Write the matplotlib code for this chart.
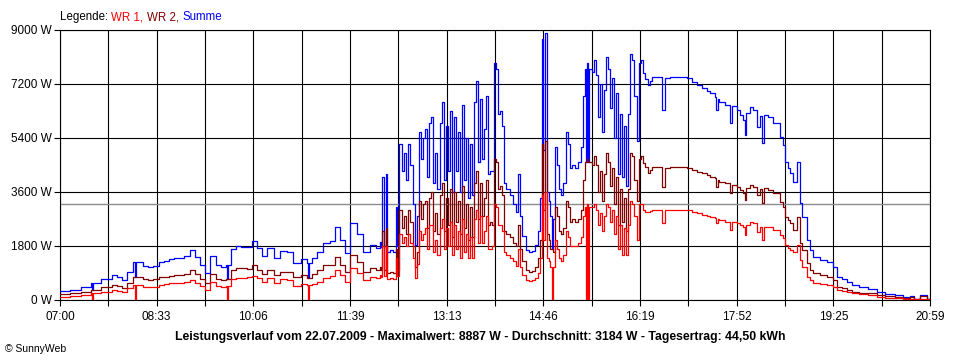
import numpy as np
import matplotlib
matplotlib.use("Agg")
import matplotlib.pyplot as plt

plt.rcParams['font.family'] = ['Liberation Sans', 'DejaVu Sans']

# minutes after 07:00
t_min = [
    0, 10, 20, 30, 31, 32, 40, 50, 55, 60, 65, 70, 72, 73, 75, 80, 85, 90, 95, 100,
    105, 110, 115, 120, 125, 130, 135, 140, 145, 150, 155, 160, 161, 162, 165, 170, 175, 180, 185,
    190, 195, 200, 206, 212, 219, 225, 232, 238, 239, 240, 243, 248, 254, 260, 265, 270, 275,
    280, 286, 292, 299, 305, 309,
    310, 311, 312, 314, 315, 318, 321, 324, 325, 327, 330, 332, 334, 336, 338, 340, 342, 344,
    346, 348, 350, 352, 354, 356, 358, 360, 362, 364, 366, 368, 370, 372, 374, 376, 378, 380,
    382, 384, 386, 388, 390, 392, 393, 395, 397, 399, 401, 403, 405, 407, 409, 411, 413, 415,
    417, 419, 420, 422, 424, 426, 428, 430, 434, 437, 440, 442, 444, 446, 449, 452, 455, 458,
    461, 463, 465, 466, 468, 470, 472, 473, 474, 475, 477, 479, 481, 483, 485, 488, 490, 492,
    494, 497, 500, 502, 504, 506, 507, 508, 509, 510, 513, 515, 517, 519, 521, 523, 525, 527,
    528, 530, 532, 534, 536, 538, 540, 542, 544, 546, 548, 550, 552, 554, 556, 558, 560,
    562, 564, 567, 569, 571, 576, 580, 581, 583, 588, 593, 598, 605, 609, 614, 619, 624, 627,
    632, 633, 635, 636, 641, 646, 648, 653, 656, 659, 661, 662, 665, 668, 672, 675, 677, 679,
    683, 688, 692, 694, 697, 699, 702, 704, 707, 711, 714, 716, 720, 723, 726, 733, 740, 745,
    749, 754, 759, 764, 771, 779, 788, 796, 805, 813, 820, 822, 824, 829, 832, 836, 839,
]

wr2 = [
    200, 220, 280, 333, 333, 333, 420, 500, 470, 390, 555, 755, 760, 770, 780, 690, 667, 690, 755, 780,
    800, 830, 830, 870, 1000, 870, 690, 555, 855, 690, 667, 690, 690, 700, 1000, 1080, 1055, 1020, 1170,
    1000, 870, 1000, 830, 945, 920, 780, 830, 720, 720, 730, 870, 1000, 1170, 1170, 1420, 1170, 945,
    1500, 1280, 945, 1055, 1000, 1110,
    1000, 2300, 1000, 2400, 900, 950, 900, 1700, 1000, 3000, 2400, 2800, 2200, 3000, 2600, 1800, 1100, 1600,
    3300, 2700, 3200, 3300, 2400, 3400, 3600, 2300, 2900, 2200, 3500, 3900, 2300, 3400, 2500, 3700, 2100, 3600,
    2600, 3300, 2200, 3800, 2400, 3200, 2000, 3100, 2100, 3900, 4300, 2700, 3900, 2800, 3400, 4000, 2500, 2600,
    2500, 4700, 4600, 3700, 3800, 3500, 2300, 2200, 2100, 1900, 1800, 2500, 1700, 1300, 1000, 940, 960, 1100,
    1400, 2000, 5200, 3000, 5300, 2200, 2000, 1700, 1700, 1600, 3100, 2800, 2300, 2200, 2400, 3300, 3100, 2600,
    2700, 2600, 2700, 3000, 4000, 4600, 4600, 4700, 4600, 4600, 4500, 4800, 4500, 3600, 4300, 3300, 4200, 4900,
    4600, 3800, 4400, 3200, 4100, 2500, 3700, 2600, 3400, 2300, 3700, 4900, 4800, 4000, 3300, 4700, 4800,
    4560, 4440, 4220, 4330, 4440, 4440, 4440, 3780, 4400, 4440, 4440, 4420, 4390, 4330, 4280, 4220, 4160, 4110,
    4060, 3780, 4000, 3940, 3890, 3560, 3850, 3780, 3670, 3560, 3330, 3720, 3830, 3780, 3500, 3700, 3220, 3720,
    3670, 3560, 3560, 3280, 3110, 2780, 2670, 2560, 2330, 2780, 1890, 1670, 1220, 1000, 890, 830, 780, 667,
    445, 400, 330, 280, 250, 220, 170, 120, 110, 80, 110, 100, 30, 130, 120, 30, 20,
]

wr1 = [
    110, 130, 165, 220, 0, 220, 280, 333, 310, 280, 390, 500, 0, 500, 500, 445, 420, 445, 510, 530,
    555, 580, 580, 610, 667, 580, 470, 333, 610, 470, 420, 470, 0, 470, 690, 720, 720, 755, 800,
    720, 610, 720, 580, 690, 670, 470, 530, 500, 0, 500, 530, 610, 720, 800, 1000, 830, 610,
    1055, 910, 670, 780, 720, 830,
    780, 1800, 800, 1800, 700, 720, 700, 1400, 800, 2200, 1900, 2100, 1800, 2200, 1900, 1400, 720, 1200,
    2300, 2000, 2200, 2400, 1700, 2500, 2500, 1600, 2000, 1500, 2400, 2700, 1700, 2400, 1800, 2600, 1500, 2500,
    1700, 2300, 1400, 2700, 1600, 2200, 1400, 2100, 1400, 2700, 3000, 1900, 2800, 1900, 2300, 2800, 1700, 1700,
    1800, 3200, 3100, 2500, 2500, 2300, 1600, 1500, 1400, 1300, 1150, 1700, 1100, 850, 680, 650, 680, 750,
    900, 1400, 3500, 2000, 3600, 1400, 1300, 1100, 0, 1100, 2000, 1700, 1400, 1300, 1500, 2300, 2100, 1800,
    1800, 1800, 1900, 2100, 2800, 3100, 0, 3200, 0, 3100, 3100, 3200, 3000, 2500, 2900, 2300, 2800, 3200,
    3100, 2600, 3000, 2200, 2800, 1700, 2500, 1500, 2400, 1500, 2500, 3300, 3200, 2800, 2000, 3200, 3200,
    3000, 2940, 2940, 2960, 3000, 3000, 3000, 2560, 3000, 3000, 3000, 3000, 3000, 2940, 2890, 2830, 2800, 2780,
    2720, 2560, 2700, 2670, 2610, 2330, 2600, 2560, 2500, 2440, 2170, 2500, 2610, 2560, 2280, 2440, 2000, 2440,
    2440, 2330, 2330, 2170, 2060, 1830, 1720, 1670, 1610, 1830, 1330, 1110, 780, 670, 555, 520, 490, 445,
    330, 300, 280, 220, 200, 160, 110, 80, 60, 30, 35, 40, 20, 40, 40, 20, 10,
]

summe = np.array(wr1) + np.array(wr2)

durchschnitt = 3184
y_ticks = [0, 1800, 3600, 5400, 7200, 9000]
x_labels = ["07:00", "08:33", "10:06", "11:39", "13:13", "14:46", "16:19", "17:52", "19:25", "20:59"]
t_end = 839

fig = plt.figure(figsize=(9.6, 3.6), dpi=100)
ax = fig.add_axes([60 / 960, 60 / 360, 870 / 960, 270 / 360])

ax.axhline(durchschnitt, color="#8c8c8c", lw=1.0, zorder=1)
ax.plot(t_min, summe, color="#0000ff", lw=0.9, drawstyle="steps-post", zorder=3)
ax.plot(t_min, wr2, color="#800000", lw=0.9, drawstyle="steps-post", zorder=4)
ax.plot(t_min, wr1, color="#ff0000", lw=0.9, drawstyle="steps-post", zorder=5)

ax.set_xlim(0, t_end)
ax.set_ylim(0, 9000)

xt = np.linspace(0, t_end, 19)
ax.set_xticks(xt)
ax.set_xticklabels([x_labels[i // 2] if i % 2 == 0 else "" for i in range(19)])
ax.set_yticks(y_ticks)
ax.set_yticklabels([f"{v} W" for v in y_ticks])
ax.tick_params(length=4, width=0.8, color="black", labelsize=8.5, pad=2)
ax.tick_params(axis="x", pad=4)

ax.grid(True, color="black", lw=0.8)
ax.set_axisbelow(True)
for s in ax.spines.values():
    s.set_color("black")
    s.set_linewidth(0.8)

# legend line at the top
t0 = fig.text(60 / 960, 1 - 17 / 360, "Legende: ", fontsize=8.3, va="center", color="black")
prev = t0
for txt, col in [("WR 1, ", "#ff0000"), ("WR 2, ", "#800000"), ("Summe", "#0000ff")]:
    prev = ax.annotate(txt, xy=(1, 0), xycoords=prev, va="bottom", fontsize=8.3, color=col)

fig.text(0.5, 1 - 337 / 360,
         "Leistungsverlauf vom 22.07.2009 - Maximalwert: 8887 W - Durchschnitt: 3184 W - Tagesertrag: 44,50 kWh",
         ha="center", va="center", fontsize=8.8, fontweight="bold")
fig.text(5 / 960, 1 - 349 / 360, "\u00a9 SunnyWeb", fontsize=7.5, va="center")

fig.savefig("out.png", dpi=100)
